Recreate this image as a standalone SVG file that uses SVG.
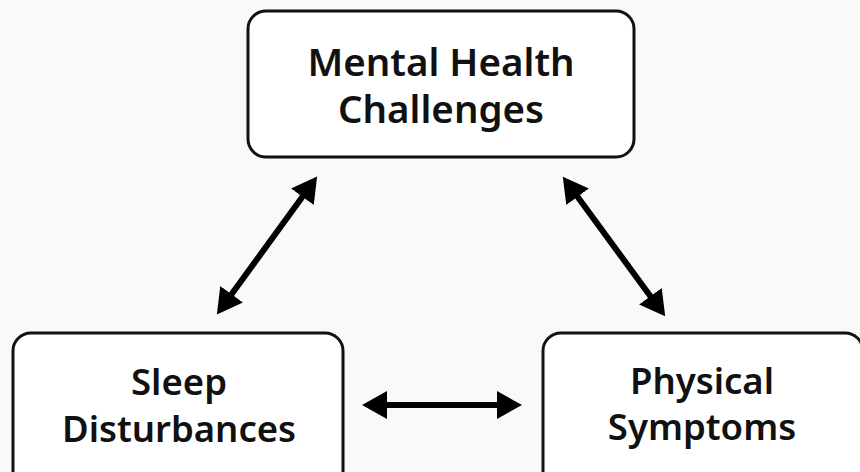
<svg xmlns="http://www.w3.org/2000/svg" width="860" height="472" viewBox="0 0 860 472">
  <defs>
    <style>
      .box { fill: #ffffff; stroke: #111111; stroke-width: 3; }
      .lbl { font-family: "Noto Sans", "Open Sans", sans-serif; font-weight: 600; fill: #111111; text-anchor: middle; }
      .big { font-size: 38.5px; }
      .med { font-size: 36.5px; }
      .conn { stroke: #000000; stroke-width: 6; fill: none; marker-start: url(#ah); marker-end: url(#ah); }
    </style>
    <marker id="ah" markerUnits="userSpaceOnUse" markerWidth="26" markerHeight="30" viewBox="0 0 26 30" refX="1" refY="15" orient="auto-start-reverse">
      <path d="M0,1 L25,15 L0,29 z" fill="#000000"/>
    </marker>
  </defs>
  <rect width="860" height="472" fill="#f9f9f9"/>
  <g id="connectors">
    <line class="conn" x1="231" y1="295" x2="303" y2="196"/>
    <line class="conn" x1="577" y1="196" x2="651" y2="297"/>
    <line class="conn" x1="386" y1="405" x2="498" y2="405"/>
  </g>
  <g id="mental-health">
    <rect class="box" x="248" y="11" width="386" height="146" rx="18"/>
    <text class="lbl big" x="441" y="76">Mental Health</text>
    <text class="lbl big" x="441" y="123">Challenges</text>
  </g>
  <g id="sleep">
    <rect class="box" x="13" y="333" width="330" height="160" rx="18"/>
    <text class="lbl med" x="179" y="395">Sleep</text>
    <text class="lbl med" x="179" y="442">Disturbances</text>
  </g>
  <g id="physical">
    <rect class="box" x="543" y="333" width="320" height="160" rx="18"/>
    <text class="lbl med" x="702" y="394">Physical</text>
    <text class="lbl med" x="702" y="440">Symptoms</text>
  </g>
</svg>
